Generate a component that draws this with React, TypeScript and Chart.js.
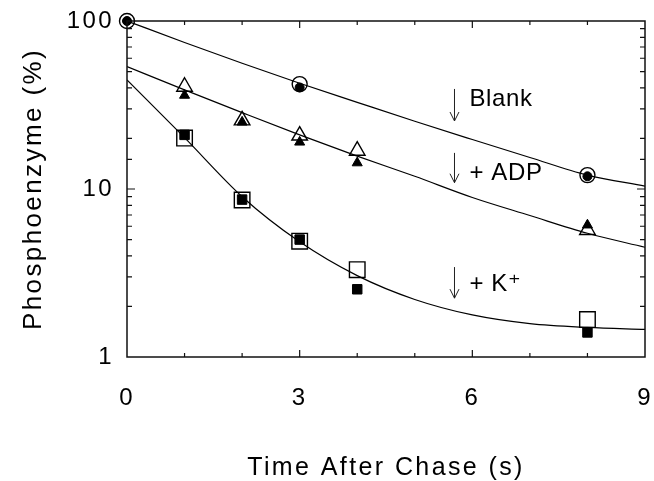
import React, { useEffect, useRef } from 'react';
import { Chart, registerables } from 'chart.js';

Chart.register(...registerables);

// ---- data ----
const blankX = [0, 3, 8];
const blankOpen = [100, 42.1, 12.1];
const blankFilled = [100, 40.2, 11.9];

const adpX = [1, 2, 3, 4, 8];
const adpOpen = [40.6, 25.6, 20.8, 16.9, 5.7];
const adpFilled = [36.1, 25.0, 19.0, 14.3, 6.1];

const kX = [1, 2, 3, 4, 8];
const kOpen = [20.1, 8.6, 4.89, 3.31, 1.67];
const kFilled = [21.0, 8.65, 5.0, 2.53, 1.4];

// fitted curves at whole seconds
const curveX = [0, 1, 2, 3, 4, 5, 6, 7, 8, 9];
const blankCurve = [100, 74.5, 56, 42.6, 32.8, 25.3, 19.7, 15.4, 12.1, 10.4];
const adpCurve = [53.5, 38.9, 28.5, 21, 15.7, 11.9, 8.9, 6.95, 5.45, 4.5];
const kCurve = [44.6, 20.2, 9.0, 4.85, 3.05, 2.2, 1.78, 1.58, 1.5, 1.46];

const xTickLabels = [0, 3, 6, 9];
const yTickLabels = [1, 10, 100];
const xTitle = 'Time After Chase (s)';
const yTitle = 'Phosphoenzyme (%)';

// in-plot annotations (arrow + text), in data units
const noteLabels = ['Blank', '+ ADP', '+ K\u207A'];
const noteArrowX = 5.69;
const noteArrowFrom = [39.4, 16.4, 3.43];
const noteArrowTo = [25.4, 10.9, 2.24];
const noteTextX = 5.95;
const noteTextY = [34.1, 12.4, 2.7];

const FONT = '"Liberation Sans", Arial, "DejaVu Sans", sans-serif';

const pts = (xs: number[], ys: number[]) => xs.map((x, i) => ({ x, y: ys[i] }));

const decorPlugin = {
  id: 'decor',
  beforeDraw(chart: any) {
    chart.ctx.letterSpacing = '2.4px';
  },
  afterDraw(chart: any) {
    const { ctx, chartArea } = chart;
    const xs = chart.scales.x;
    const ys = chart.scales.y;
    const { left, right, top, bottom } = chartArea;
    ctx.save();
    ctx.letterSpacing = '0px';
    // frame
    ctx.strokeStyle = '#111';
    ctx.lineWidth = 1.5;
    ctx.strokeRect(left, top, right - left, bottom - top);
    // x ticks (bottom and top, inward)
    ctx.lineWidth = 1.2;
    ctx.beginPath();
    for (const t of xs.ticks) {
      const v = t.value;
      if (v <= xs.min || v >= xs.max) continue;
      const px = xs.getPixelForValue(v);
      const len = xTickLabels.includes(v) ? 7 : 4;
      ctx.moveTo(px, bottom);
      ctx.lineTo(px, bottom - len);
      ctx.moveTo(px, top);
      ctx.lineTo(px, top + len);
    }
    // y ticks (left and right, inward)
    for (const t of ys.ticks) {
      const v = t.value;
      if (v <= ys.min || v >= ys.max) continue;
      const py = ys.getPixelForValue(v);
      const len = yTickLabels.includes(v) ? 8 : 5;
      ctx.moveTo(left, py);
      ctx.lineTo(left + len, py);
      ctx.moveTo(right, py);
      ctx.lineTo(right - len, py);
    }
    ctx.stroke();
    // annotations
    ctx.strokeStyle = '#222';
    ctx.lineWidth = 1;
    ctx.fillStyle = '#000';
    ctx.font = `24px ${FONT}`;
    ctx.letterSpacing = '0.6px';
    ctx.textAlign = 'left';
    ctx.textBaseline = 'middle';
    noteLabels.forEach((label, i) => {
      const ax = xs.getPixelForValue(noteArrowX);
      const y1 = ys.getPixelForValue(noteArrowFrom[i]);
      const y2 = ys.getPixelForValue(noteArrowTo[i]);
      ctx.beginPath();
      ctx.moveTo(ax, y1);
      ctx.lineTo(ax, y2);
      ctx.moveTo(ax - 4.5, y2 - 9);
      ctx.lineTo(ax, y2);
      ctx.lineTo(ax + 4.5, y2 - 9);
      ctx.stroke();
      ctx.fillText(label, xs.getPixelForValue(noteTextX), ys.getPixelForValue(noteTextY[i]));
    });
    ctx.restore();
  },
};

export default function App() {
  const ref = useRef<HTMLCanvasElement>(null);
  useEffect(() => {
    document.body.style.margin = '0';
    const canvas = ref.current!;
    const openPt = (style: string, r: number) => ({
      showLine: false,
      clip: false,
      pointStyle: style,
      pointRadius: r,
      pointHoverRadius: r,
      pointBorderWidth: 1.4,
      pointBorderColor: '#000',
      pointBackgroundColor: 'rgba(0,0,0,0)',
      order: 5,
    });
    const filledPt = (style: string, r: number) => ({
      showLine: false,
      clip: false,
      pointStyle: style,
      pointRadius: r,
      pointHoverRadius: r,
      pointBorderWidth: 1,
      pointBorderColor: '#000',
      pointBackgroundColor: '#000',
      order: 1,
    });
    const curve = {
      showLine: true,
      pointRadius: 0,
      borderColor: '#000',
      borderWidth: 1.2,
      cubicInterpolationMode: 'monotone',
      order: 10,
    };
    const chart = new Chart(canvas, {
      type: 'scatter',
      data: {
        datasets: [
          { label: 'Blank fit', data: pts(curveX, blankCurve), ...curve },
          { label: '+ADP fit', data: pts(curveX, adpCurve), ...curve },
          { label: '+K fit', data: pts(curveX, kCurve), ...curve },
          { label: 'Blank open', data: pts(blankX, blankOpen), ...openPt('circle', 7.5) },
          { label: 'Blank filled', data: pts(blankX, blankFilled), ...filledPt('circle', 4.5) },
          { label: 'ADP open', data: pts(adpX, adpOpen), ...openPt('triangle', 9) },
          { label: 'ADP filled', data: pts(adpX, adpFilled), ...filledPt('triangle', 5.8) },
          { label: 'K open', data: pts(kX, kOpen), ...openPt('rect', 11) },
          { label: 'K filled', data: pts(kX, kFilled), ...filledPt('rect', 6.7) },
        ] as any,
      },
      options: {
        animation: false,
        responsive: false,
        events: [],
        layout: { autoPadding: false, padding: { top: 21, right: 9, left: 0, bottom: 0 } },
        plugins: { legend: { display: false }, tooltip: { enabled: false } },
        scales: {
          x: {
            type: 'linear',
            min: 0,
            max: 9,
            grid: { display: false, drawTicks: true, tickLength: 27 },
            border: { display: false },
            ticks: {
              stepSize: 1,
              autoSkip: false,
              maxRotation: 0,
              padding: 0,
              color: '#000',
              font: { family: FONT, size: 24, lineHeight: 1.2 },
              callback: (v: any) => (xTickLabels.includes(Number(v)) ? String(v) : ''),
            },
            title: {
              display: true,
              text: xTitle,
              color: '#000',
              font: { family: FONT, size: 25, lineHeight: 1 },
              padding: { top: 0, bottom: 0 },
            },
            afterFit: (s: any) => {
              s.height = 124;
              s.paddingLeft = 0;
              s.paddingRight = 0;
            },
          },
          y: {
            type: 'logarithmic',
            min: 1,
            max: 100,
            grid: { display: false, drawTicks: true, tickLength: 13 },
            border: { display: false },
            ticks: {
              autoSkip: false,
              padding: 0,
              color: '#000',
              font: { family: FONT, size: 24, lineHeight: 1.2 },
              callback: (v: any) => (yTickLabels.includes(Number(v)) ? String(v) : ''),
            },
            title: {
              display: true,
              text: yTitle,
              color: '#000',
              font: { family: FONT, size: 26, lineHeight: 1 },
              padding: { top: 21, bottom: 0 },
            },
            afterFit: (s: any) => {
              s.width = 127;
              s.paddingTop = 0;
              s.paddingBottom = 0;
            },
          },
        },
      } as any,
      plugins: [decorPlugin],
    });
    return () => chart.destroy();
  }, []);
  return (
    <div style={{ width: 654, height: 481 }}>
      <canvas ref={ref} width={654} height={481} style={{ display: 'block' }} />
    </div>
  );
}
